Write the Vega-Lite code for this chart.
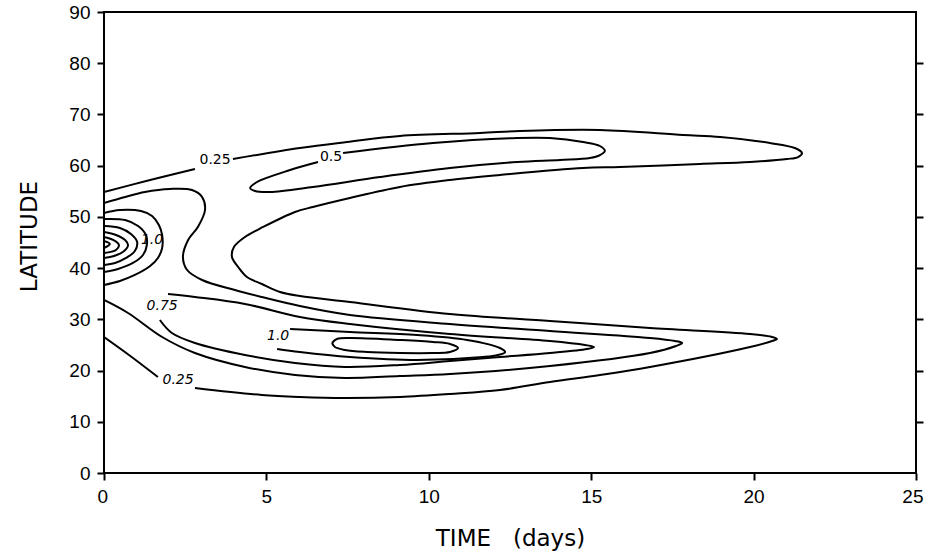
{
  "$schema": "https://vega.github.io/schema/vega-lite/v6.json",
  "width": 812,
  "height": 461,
  "autosize": {"type": "none"},
  "padding": {"left": 104, "top": 12, "right": 10, "bottom": 81},
  "background": "white",
  "config": {
    "view": {"stroke": "black", "strokeWidth": 2},
    "axis": {"grid": false, "domain": false, "tickColor": "black", "tickWidth": 2, "tickSize": 7, "labelColor": "black", "titleColor": "black", "labelFont": "Liberation Sans", "labelFontSize": 19, "titleFont": "DejaVu Sans", "titleFontWeight": "normal", "labelFlush": false, "labelOverlap": false, "labelBound": false}
  },
  "datasets": {
    "lines": [
      {"c": "c025a", "i": 1, "t": 0, "lat": 54.86},
      {"c": "c025a", "i": 2, "t": 1.42, "lat": 57.2},
      {"c": "c025a", "i": 3, "t": 2.8, "lat": 59.35},
      {"c": "c025b", "i": 1, "t": 3.97, "lat": 61.3},
      {"c": "c025b", "i": 2, "t": 6.03, "lat": 63.45},
      {"c": "c025b", "i": 3, "t": 7.48, "lat": 64.62},
      {"c": "c025b", "i": 4, "t": 9.11, "lat": 65.79},
      {"c": "c025b", "i": 5, "t": 11.58, "lat": 66.38},
      {"c": "c025b", "i": 6, "t": 12.81, "lat": 66.77},
      {"c": "c025b", "i": 7, "t": 15.27, "lat": 66.97},
      {"c": "c025b", "i": 8, "t": 17.83, "lat": 65.99},
      {"c": "c025b", "i": 9, "t": 18.97, "lat": 65.6},
      {"c": "c025b", "i": 10, "t": 20.5, "lat": 64.43},
      {"c": "c025b", "i": 11, "t": 21.27, "lat": 63.45},
      {"c": "c025b", "i": 12, "t": 21.49, "lat": 62.47},
      {"c": "c025b", "i": 13, "t": 21.37, "lat": 61.69},
      {"c": "c025b", "i": 14, "t": 21.03, "lat": 61.3},
      {"c": "c025b", "i": 15, "t": 19.89, "lat": 60.72},
      {"c": "c025b", "i": 16, "t": 18.35, "lat": 60.33},
      {"c": "c025b", "i": 17, "t": 15.89, "lat": 59.74},
      {"c": "c025b", "i": 18, "t": 14.75, "lat": 59.55},
      {"c": "c025b", "i": 19, "t": 12.19, "lat": 58.18},
      {"c": "c025b", "i": 20, "t": 10.65, "lat": 57.2},
      {"c": "c025b", "i": 21, "t": 9.11, "lat": 55.84},
      {"c": "c025b", "i": 22, "t": 7.57, "lat": 53.69},
      {"c": "c025b", "i": 23, "t": 6.43, "lat": 51.93},
      {"c": "c025b", "i": 24, "t": 5.88, "lat": 50.96},
      {"c": "c025b", "i": 25, "t": 4.9, "lat": 48.03},
      {"c": "c025b", "i": 26, "t": 4.34, "lat": 46.08},
      {"c": "c025b", "i": 27, "t": 4.0, "lat": 44.12},
      {"c": "c025b", "i": 28, "t": 3.94, "lat": 42.17},
      {"c": "c025b", "i": 29, "t": 4.13, "lat": 40.22},
      {"c": "c025b", "i": 30, "t": 4.4, "lat": 38.27},
      {"c": "c025b", "i": 31, "t": 4.86, "lat": 36.9},
      {"c": "c025b", "i": 32, "t": 5.42, "lat": 35.34},
      {"c": "c025b", "i": 33, "t": 6.03, "lat": 34.56},
      {"c": "c025b", "i": 34, "t": 7.57, "lat": 33.39},
      {"c": "c025b", "i": 35, "t": 10.65, "lat": 31.04},
      {"c": "c025b", "i": 36, "t": 13.73, "lat": 29.68},
      {"c": "c025b", "i": 37, "t": 16.81, "lat": 28.31},
      {"c": "c025b", "i": 38, "t": 19.89, "lat": 27.14},
      {"c": "c025b", "i": 39, "t": 20.57, "lat": 26.55},
      {"c": "c025b", "i": 40, "t": 20.72, "lat": 26.16},
      {"c": "c025b", "i": 41, "t": 20.57, "lat": 25.77},
      {"c": "c025b", "i": 42, "t": 19.89, "lat": 24.6},
      {"c": "c025b", "i": 43, "t": 16.81, "lat": 20.7},
      {"c": "c025b", "i": 44, "t": 15.27, "lat": 19.13},
      {"c": "c025b", "i": 45, "t": 13.73, "lat": 17.77},
      {"c": "c025b", "i": 46, "t": 12.19, "lat": 16.2},
      {"c": "c025b", "i": 47, "t": 10.65, "lat": 15.42},
      {"c": "c025b", "i": 48, "t": 9.11, "lat": 14.84},
      {"c": "c025b", "i": 49, "t": 7.42, "lat": 14.64},
      {"c": "c025b", "i": 50, "t": 6.03, "lat": 14.84},
      {"c": "c025b", "i": 51, "t": 4.86, "lat": 15.23},
      {"c": "c025b", "i": 52, "t": 2.8, "lat": 16.6},
      {"c": "c025c", "i": 1, "t": 1.66, "lat": 18.74},
      {"c": "c025c", "i": 2, "t": 0.8, "lat": 22.9},
      {"c": "c025c", "i": 3, "t": 0, "lat": 26.55},
      {"c": "c05u", "i": 1, "t": 7.36, "lat": 62.47},
      {"c": "c05u", "i": 2, "t": 10.13, "lat": 64.43},
      {"c": "c05u", "i": 3, "t": 12.72, "lat": 65.4},
      {"c": "c05u", "i": 4, "t": 13.73, "lat": 65.4},
      {"c": "c05u", "i": 5, "t": 14.75, "lat": 64.62},
      {"c": "c05u", "i": 6, "t": 15.27, "lat": 63.84},
      {"c": "c05u", "i": 7, "t": 15.42, "lat": 62.87},
      {"c": "c05u", "i": 8, "t": 15.27, "lat": 62.08},
      {"c": "c05u", "i": 9, "t": 14.96, "lat": 61.5},
      {"c": "c05u", "i": 10, "t": 14.04, "lat": 61.11},
      {"c": "c05u", "i": 11, "t": 12.72, "lat": 60.72},
      {"c": "c05u", "i": 12, "t": 10.65, "lat": 59.55},
      {"c": "c05u", "i": 13, "t": 8.5, "lat": 57.79},
      {"c": "c05u", "i": 14, "t": 6.43, "lat": 55.84},
      {"c": "c05u", "i": 15, "t": 5.11, "lat": 54.86},
      {"c": "c05u", "i": 16, "t": 4.65, "lat": 55.05},
      {"c": "c05u", "i": 17, "t": 4.5, "lat": 55.64},
      {"c": "c05u", "i": 18, "t": 4.71, "lat": 56.81},
      {"c": "c05u", "i": 19, "t": 5.73, "lat": 59.16},
      {"c": "c05u", "i": 20, "t": 6.59, "lat": 60.72},
      {"c": "c05", "i": 1, "t": 0, "lat": 52.71},
      {"c": "c05", "i": 2, "t": 0.65, "lat": 53.89},
      {"c": "c05", "i": 3, "t": 1.26, "lat": 54.86},
      {"c": "c05", "i": 4, "t": 2.03, "lat": 55.45},
      {"c": "c05", "i": 5, "t": 2.71, "lat": 55.25},
      {"c": "c05", "i": 6, "t": 3.02, "lat": 53.89},
      {"c": "c05", "i": 7, "t": 3.11, "lat": 51.35},
      {"c": "c05", "i": 8, "t": 2.89, "lat": 48.03},
      {"c": "c05", "i": 9, "t": 2.59, "lat": 45.49},
      {"c": "c05", "i": 10, "t": 2.43, "lat": 42.17},
      {"c": "c05", "i": 11, "t": 2.56, "lat": 39.63},
      {"c": "c05", "i": 12, "t": 3.02, "lat": 37.68},
      {"c": "c05", "i": 13, "t": 4.03, "lat": 35.73},
      {"c": "c05", "i": 14, "t": 4.86, "lat": 34.36},
      {"c": "c05", "i": 15, "t": 6.03, "lat": 32.6},
      {"c": "c05", "i": 16, "t": 7.57, "lat": 30.85},
      {"c": "c05", "i": 17, "t": 10.65, "lat": 29.09},
      {"c": "c05", "i": 18, "t": 13.73, "lat": 27.72},
      {"c": "c05", "i": 19, "t": 16.81, "lat": 26.36},
      {"c": "c05", "i": 20, "t": 17.58, "lat": 25.77},
      {"c": "c05", "i": 21, "t": 17.8, "lat": 25.38},
      {"c": "c05", "i": 22, "t": 17.61, "lat": 24.79},
      {"c": "c05", "i": 23, "t": 16.81, "lat": 23.43},
      {"c": "c05", "i": 24, "t": 13.73, "lat": 20.89},
      {"c": "c05", "i": 25, "t": 10.65, "lat": 19.33},
      {"c": "c05", "i": 26, "t": 9.11, "lat": 18.94},
      {"c": "c05", "i": 27, "t": 7.42, "lat": 18.55},
      {"c": "c05", "i": 28, "t": 5.88, "lat": 19.13},
      {"c": "c05", "i": 29, "t": 4.34, "lat": 20.7},
      {"c": "c05", "i": 30, "t": 2.8, "lat": 23.43},
      {"c": "c05", "i": 31, "t": 1.79, "lat": 26.55},
      {"c": "c05", "i": 32, "t": 0.74, "lat": 31.24},
      {"c": "c05", "i": 33, "t": 0, "lat": 33.78},
      {"c": "c075", "i": 1, "t": 1.97, "lat": 34.95},
      {"c": "c075", "i": 2, "t": 2.8, "lat": 34.36},
      {"c": "c075", "i": 3, "t": 4.34, "lat": 33.0},
      {"c": "c075", "i": 4, "t": 6.03, "lat": 30.46},
      {"c": "c075", "i": 5, "t": 7.57, "lat": 29.09},
      {"c": "c075", "i": 6, "t": 10.65, "lat": 27.14},
      {"c": "c075", "i": 7, "t": 13.73, "lat": 25.77},
      {"c": "c075", "i": 8, "t": 14.81, "lat": 24.99},
      {"c": "c075", "i": 9, "t": 15.09, "lat": 24.6},
      {"c": "c075", "i": 10, "t": 14.87, "lat": 24.21},
      {"c": "c075", "i": 11, "t": 13.73, "lat": 23.43},
      {"c": "c075", "i": 12, "t": 12.19, "lat": 22.65},
      {"c": "c075", "i": 13, "t": 10.65, "lat": 21.87},
      {"c": "c075", "i": 14, "t": 9.11, "lat": 21.09},
      {"c": "c075", "i": 15, "t": 7.42, "lat": 20.7},
      {"c": "c075", "i": 16, "t": 5.88, "lat": 21.48},
      {"c": "c075", "i": 17, "t": 4.34, "lat": 23.04},
      {"c": "c075", "i": 18, "t": 2.8, "lat": 25.38},
      {"c": "c075", "i": 19, "t": 2.09, "lat": 27.33},
      {"c": "c075", "i": 20, "t": 1.72, "lat": 29.87},
      {"c": "c10", "i": 1, "t": 5.73, "lat": 28.11},
      {"c": "c10", "i": 2, "t": 7.57, "lat": 27.53},
      {"c": "c10", "i": 3, "t": 9.64, "lat": 26.94},
      {"c": "c10", "i": 4, "t": 11.18, "lat": 25.97},
      {"c": "c10", "i": 5, "t": 12.19, "lat": 24.4},
      {"c": "c10", "i": 6, "t": 12.35, "lat": 23.62},
      {"c": "c10", "i": 7, "t": 12.13, "lat": 23.04},
      {"c": "c10", "i": 8, "t": 11.67, "lat": 22.65},
      {"c": "c10", "i": 9, "t": 9.64, "lat": 22.06},
      {"c": "c10", "i": 10, "t": 7.57, "lat": 22.65},
      {"c": "c10", "i": 11, "t": 6.03, "lat": 23.62},
      {"c": "c10", "i": 12, "t": 5.33, "lat": 24.21},
      {"c": "c125", "i": 1, "t": 7.02, "lat": 25.38},
      {"c": "c125", "i": 2, "t": 7.17, "lat": 26.16},
      {"c": "c125", "i": 3, "t": 7.57, "lat": 26.36},
      {"c": "c125", "i": 4, "t": 9.11, "lat": 25.97},
      {"c": "c125", "i": 5, "t": 10.13, "lat": 25.58},
      {"c": "c125", "i": 6, "t": 10.65, "lat": 25.19},
      {"c": "c125", "i": 7, "t": 10.9, "lat": 24.4},
      {"c": "c125", "i": 8, "t": 10.65, "lat": 23.62},
      {"c": "c125", "i": 9, "t": 10.13, "lat": 23.43},
      {"c": "c125", "i": 10, "t": 9.11, "lat": 23.43},
      {"c": "c125", "i": 11, "t": 8.1, "lat": 23.62},
      {"c": "c125", "i": 12, "t": 7.42, "lat": 24.01},
      {"c": "c125", "i": 13, "t": 7.11, "lat": 24.6},
      {"c": "c125", "i": 14, "t": 7.02, "lat": 25.38},
      {"c": "r1", "i": 1, "t": 0, "lat": 50.76},
      {"c": "r1", "i": 2, "t": 0.49, "lat": 51.35},
      {"c": "r1", "i": 3, "t": 1.14, "lat": 51.15},
      {"c": "r1", "i": 4, "t": 1.48, "lat": 50.18},
      {"c": "r1", "i": 5, "t": 1.69, "lat": 48.42},
      {"c": "r1", "i": 6, "t": 1.79, "lat": 46.47},
      {"c": "r1", "i": 7, "t": 1.79, "lat": 43.93},
      {"c": "r1", "i": 8, "t": 1.66, "lat": 41.98},
      {"c": "r1", "i": 9, "t": 1.42, "lat": 40.41},
      {"c": "r1", "i": 10, "t": 0.95, "lat": 38.66},
      {"c": "r1", "i": 11, "t": 0.49, "lat": 37.49},
      {"c": "r1", "i": 12, "t": 0, "lat": 36.7},
      {"c": "r2", "i": 1, "t": 0, "lat": 49.59},
      {"c": "r2", "i": 2, "t": 0.65, "lat": 49.39},
      {"c": "r2", "i": 3, "t": 1.05, "lat": 48.22},
      {"c": "r2", "i": 4, "t": 1.29, "lat": 46.47},
      {"c": "r2", "i": 5, "t": 1.32, "lat": 44.51},
      {"c": "r2", "i": 6, "t": 1.2, "lat": 42.56},
      {"c": "r2", "i": 7, "t": 0.89, "lat": 41.0},
      {"c": "r2", "i": 8, "t": 0.43, "lat": 39.83},
      {"c": "r2", "i": 9, "t": 0, "lat": 39.24},
      {"c": "r3", "i": 1, "t": 0, "lat": 48.22},
      {"c": "r3", "i": 2, "t": 0.49, "lat": 47.83},
      {"c": "r3", "i": 3, "t": 0.83, "lat": 46.66},
      {"c": "r3", "i": 4, "t": 1.02, "lat": 45.1},
      {"c": "r3", "i": 5, "t": 0.95, "lat": 43.34},
      {"c": "r3", "i": 6, "t": 0.68, "lat": 41.98},
      {"c": "r3", "i": 7, "t": 0.34, "lat": 41.0},
      {"c": "r3", "i": 8, "t": 0, "lat": 40.61},
      {"c": "r4", "i": 1, "t": 0, "lat": 47.05},
      {"c": "r4", "i": 2, "t": 0.37, "lat": 46.47},
      {"c": "r4", "i": 3, "t": 0.65, "lat": 45.49},
      {"c": "r4", "i": 4, "t": 0.74, "lat": 44.51},
      {"c": "r4", "i": 5, "t": 0.62, "lat": 43.34},
      {"c": "r4", "i": 6, "t": 0.31, "lat": 42.37},
      {"c": "r4", "i": 7, "t": 0, "lat": 41.98},
      {"c": "r5", "i": 1, "t": 0, "lat": 46.08},
      {"c": "r5", "i": 2, "t": 0.28, "lat": 45.49},
      {"c": "r5", "i": 3, "t": 0.46, "lat": 44.51},
      {"c": "r5", "i": 4, "t": 0.37, "lat": 43.54},
      {"c": "r5", "i": 5, "t": 0, "lat": 42.95},
      {"c": "r6", "i": 1, "t": 0, "lat": 45.29},
      {"c": "r6", "i": 2, "t": 0.18, "lat": 44.71},
      {"c": "r6", "i": 3, "t": 0, "lat": 43.93}
    ],
    "labels": [
      {"id": "a", "label": "0.25", "t": 3.42, "lat": 61.11},
      {"id": "b", "label": "0.5", "t": 6.99, "lat": 61.69},
      {"id": "c", "label": "1.0", "t": 1.48, "lat": 45.49},
      {"id": "d", "label": "0.75", "t": 1.79, "lat": 32.6},
      {"id": "e", "label": "1.0", "t": 5.36, "lat": 26.75},
      {"id": "f", "label": "0.25", "t": 2.28, "lat": 18.16}
    ]
  },
  "encoding": {
    "x": {"field": "t", "type": "quantitative", "scale": {"domain": [0, 25], "nice": false, "zero": false},
          "axis": {"orient": "bottom", "values": [0, 5, 10, 15, 20, 25], "labelPadding": 7, "labelFlush": true, "labelFlushOffset": 7, "title": "TIME\u00a0\u00a0\u00a0(days)", "titleFontSize": 23, "titleX": 406, "titleY": 72, "titleAlign": "center", "titleBaseline": "alphabetic"}}
  },
  "layer": [
    {
      "data": {"name": "lines"},
      "mark": {"type": "line", "interpolate": "catmull-rom", "color": "black", "strokeWidth": 2, "clip": true},
      "encoding": {
        "y": {"field": "lat", "type": "quantitative", "scale": {"domain": [0, 90], "nice": false, "zero": false},
              "axis": {"orient": "left", "values": [0, 10, 20, 30, 40, 50, 60, 70, 80, 90], "labelPadding": 7, "title": "LATITUDE", "titleFontSize": 23, "titleX": -75, "titleY": 224, "titleAngle": 270, "titleAlign": "center", "titleBaseline": "middle"}},
        "detail": {"field": "c", "type": "nominal"},
        "order": {"field": "i", "type": "quantitative"}
      }
    },
    {
      "data": {"name": "labels"},
      "transform": [{"filter": {"field": "id", "oneOf": ["a", "b"]}}],
      "mark": {"type": "text", "font": "DejaVu Sans", "fontSize": 14, "color": "black", "align": "center", "baseline": "middle"},
      "encoding": {
        "y": {"field": "lat", "type": "quantitative", "axis": {"orient": "right", "values": [10, 20, 30, 40, 50, 60, 70, 80], "labels": false, "title": null}},
        "text": {"field": "label", "type": "nominal"}
      }
    },
    {
      "data": {"name": "labels"},
      "transform": [{"filter": {"field": "id", "oneOf": ["c", "d", "e", "f"]}}],
      "mark": {"type": "text", "font": "DejaVu Sans", "fontSize": 14, "fontStyle": "italic", "color": "black", "align": "center", "baseline": "middle"},
      "encoding": {
        "y": {"field": "lat", "type": "quantitative", "axis": null},
        "text": {"field": "label", "type": "nominal"}
      }
    }
  ],
  "resolve": {"axis": {"y": "independent"}}
}
